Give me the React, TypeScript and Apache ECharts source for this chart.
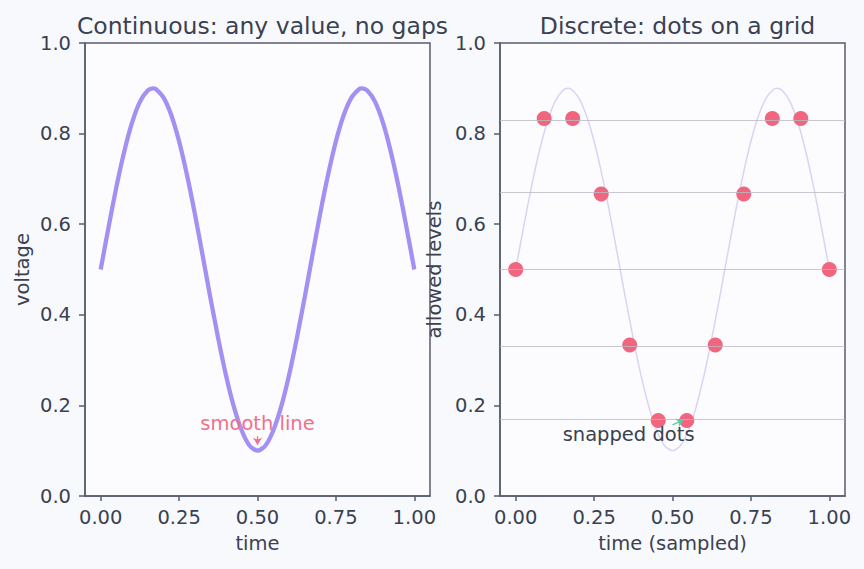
import React, { useEffect, useRef } from "react";
import * as echarts from "echarts";

// Continuous signal samples (time, voltage)
const smoothTime = [0, 0.025, 0.05, 0.075, 0.1, 0.125, 0.15, 0.1667, 0.175, 0.2, 0.225, 0.25, 0.275, 0.3, 0.325, 0.35, 0.375, 0.4, 0.425, 0.45, 0.475, 0.5, 0.525, 0.55, 0.575, 0.6, 0.625, 0.65, 0.675, 0.7, 0.725, 0.75, 0.775, 0.8, 0.825, 0.8333, 0.85, 0.875, 0.9, 0.925, 0.95, 0.975, 1.0];
const smoothVoltage = [0.5, 0.593, 0.682, 0.76, 0.824, 0.87, 0.895, 0.9, 0.899, 0.88, 0.841, 0.783, 0.709, 0.624, 0.531, 0.437, 0.347, 0.265, 0.196, 0.144, 0.111, 0.1, 0.111, 0.144, 0.196, 0.265, 0.347, 0.437, 0.531, 0.624, 0.709, 0.783, 0.841, 0.88, 0.899, 0.9, 0.895, 0.87, 0.824, 0.76, 0.682, 0.593, 0.5];

// Discrete samples snapped to allowed levels
const sampleTime = [0, 0.0909, 0.1818, 0.2727, 0.3636, 0.4545, 0.5455, 0.6364, 0.7273, 0.8182, 0.9091, 1.0];
const sampleLevel = [0.5, 0.8333, 0.8333, 0.6667, 0.3333, 0.1667, 0.1667, 0.3333, 0.6667, 0.8333, 0.8333, 0.5];
const allowedLevels = [0.1667, 0.3333, 0.5, 0.6667, 0.8333];

const xTickValues = [0, 0.25, 0.5, 0.75, 1.0];
const titles = ["Continuous: any value, no gaps", "Discrete: dots on a grid"];
const xNames = ["time", "time (sampled)"];
const yNames = ["voltage", "allowed levels"];

// annotations: text position, arrow start, arrow end
const smoothNote = { text: "smooth line", at: [0.5, 0.161], from: [0.5, 0.132], to: [0.5, 0.113] };
const snapNote = { text: "snapped dots", at: [0.36, 0.135], from: [0.5, 0.157], to: [0.535, 0.168] };

const TEXT = "#3a4150";
const SPINE = "#585c6c";
const FONT = "DejaVu Sans";
const FS = 19.5;

export default function App() {
  const ref = useRef<HTMLDivElement>(null);
  useEffect(() => {
    if (!ref.current) return;
    const chart = echarts.init(ref.current, undefined, { renderer: "svg" });
    const gridLefts = [85, 500];
    const yNameGaps = [52.5, 55.5];
    const smoothData = smoothTime.map((t, i) => [t, smoothVoltage[i]]);
    const sampleData = sampleTime.map((t, i) => [t, sampleLevel[i]]);

    const option: any = {
      animation: false,
      backgroundColor: "#f8f9fd",
      textStyle: { fontFamily: FONT },
      title: titles.map((t, i) => ({
        text: t,
        left: gridLefts[i] + 172.5,
        textAlign: "center",
        top: 9,
        textStyle: { fontFamily: FONT, fontSize: 23.5, fontWeight: "normal", color: TEXT },
      })),
      grid: gridLefts.map((l) => ({
        left: l,
        top: 43,
        width: 345,
        height: 453,
        show: true,
        backgroundColor: "#fcfcfe",
        borderColor: SPINE,
        borderWidth: 1.5,
      })),
      xAxis: [0, 1].map((i) => ({
        type: "value",
        gridIndex: i,
        min: -0.05,
        max: 1.05,
        name: xNames[i],
        nameLocation: "middle",
        nameGap: 37,
        nameTextStyle: { fontFamily: FONT, fontSize: FS, color: TEXT },
        axisLine: { show: true, onZero: false, lineStyle: { color: SPINE, width: 1.5 } },
        axisTick: { show: true, customValues: xTickValues, length: 5, lineStyle: { color: SPINE, width: 1.5 } },
        axisLabel: {
          customValues: xTickValues,
          formatter: (v: number) => v.toFixed(2),
          margin: 11,
          fontSize: FS,
          fontFamily: FONT,
          color: TEXT,
        },
        splitLine: { show: false },
      })),
      yAxis: [0, 1].map((i) => ({
        type: "value",
        gridIndex: i,
        min: 0,
        max: 1,
        interval: 0.2,
        name: yNames[i],
        nameLocation: "middle",
        nameGap: yNameGaps[i],
        nameTextStyle: { fontFamily: FONT, fontSize: FS, color: TEXT },
        axisLine: { show: true, onZero: false, lineStyle: { color: SPINE, width: 1.5 } },
        axisTick: { show: true, length: 6, lineStyle: { color: SPINE, width: 1.5 } },
        axisLabel: {
          formatter: (v: number) => v.toFixed(1),
          margin: 14,
          fontSize: FS,
          fontFamily: FONT,
          color: TEXT,
        },
        splitLine: { show: false },
      })),
      series: [
        {
          type: "line",
          xAxisIndex: 0,
          yAxisIndex: 0,
          data: smoothData,
          smooth: 0.25,
          showSymbol: false,
          lineStyle: { color: "#a48ff2", width: 4.3 },
          itemStyle: { color: "#a48ff2" },
          markPoint: {
            silent: true,
            data: [
              {
                coord: smoothNote.at,
                symbol: "circle",
                symbolSize: 1,
                itemStyle: { color: "rgba(0,0,0,0)" },
                label: { show: true, position: "inside", formatter: smoothNote.text, color: "#f0708a", fontSize: FS, fontFamily: FONT },
              },
            ],
          },
          markLine: {
            silent: true,
            symbol: ["none", "arrow"],
            symbolSize: 7,
            label: { show: false },
            lineStyle: { color: "#f0708a", width: 1.3, type: "solid" },
            data: [[{ coord: smoothNote.from }, { coord: smoothNote.to }]],
          },
        },
        {
          type: "line",
          xAxisIndex: 1,
          yAxisIndex: 1,
          data: smoothData,
          smooth: 0.25,
          showSymbol: false,
          z: 2,
          lineStyle: { color: "#d9d3f5", width: 1.5 },
          itemStyle: { color: "#d9d3f5" },
          markLine: {
            silent: true,
            symbol: ["none", "none"],
            label: { show: false },
            lineStyle: { color: "#babac4", width: 0.8, type: "solid" },
            data: allowedLevels.map((v) => ({ yAxis: v })),
          },
        },
        {
          type: "line",
          xAxisIndex: 1,
          yAxisIndex: 1,
          data: [],
          z: 3,
          markPoint: {
            silent: true,
            data: [
              {
                coord: snapNote.at,
                symbol: "circle",
                symbolSize: 1,
                itemStyle: { color: "rgba(0,0,0,0)" },
                label: { show: true, position: "inside", formatter: snapNote.text, color: TEXT, fontSize: FS, fontFamily: FONT },
              },
            ],
          },
          markLine: {
            silent: true,
            symbol: ["none", "arrow"],
            symbolSize: 7,
            label: { show: false },
            lineStyle: { color: "#5cc9a7", width: 1.3, type: "solid" },
            data: [[{ coord: snapNote.from }, { coord: snapNote.to }]],
          },
        },
        {
          type: "scatter",
          xAxisIndex: 1,
          yAxisIndex: 1,
          data: sampleData,
          symbolSize: 15,
          z: 4,
          itemStyle: { color: "#f2657f", opacity: 1 },
        },
      ],
    };
    chart.setOption(option);
    return () => chart.dispose();
  }, []);
  return <div ref={ref} style={{ position: "fixed", left: 0, top: 0, width: 864, height: 569 }} />;
}
